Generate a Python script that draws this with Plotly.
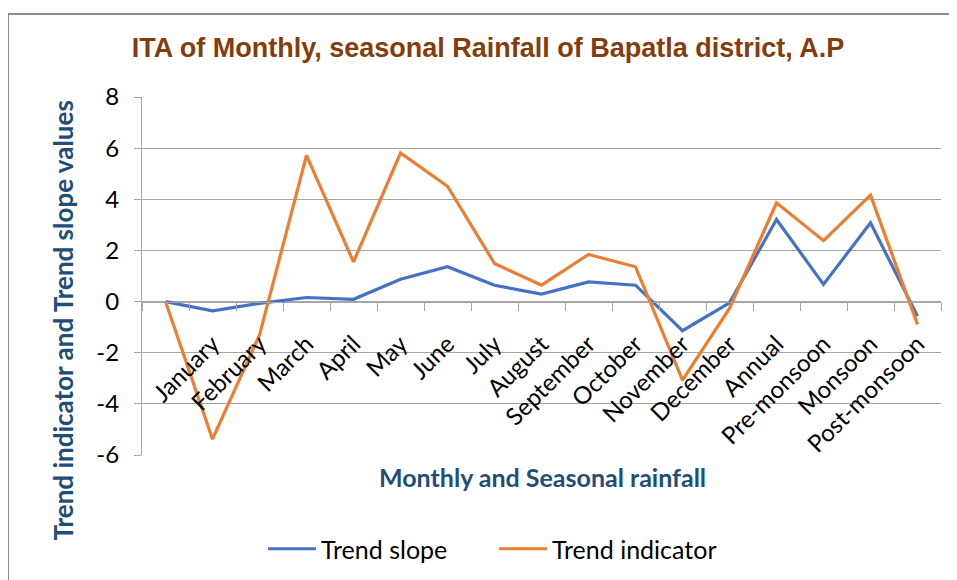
import plotly.graph_objects as go

categories = [" ", "January", "February", "March", "April", "May", "June", "July",
              "August", "September", "October", "November", "December", "Annual",
              "Pre-monsoon", "Monsoon", "Post-monsoon"]
trend_slope = [0, -0.36, -0.07, 0.16, 0.09, 0.87, 1.36, 0.64, 0.29, 0.77, 0.64,
               -1.14, -0.05, 3.21, 0.67, 3.08, -0.57]
trend_indicator = [0, -5.38, -1.31, 5.72, 1.55, 5.81, 4.51, 1.49, 0.64, 1.84, 1.36,
                   -3.07, -0.27, 3.86, 2.38, 4.16, -0.89]
y_ticks = [-6, -4, -2, 0, 2, 4, 6, 8]
y_tick_labels = [str(v) for v in y_ticks]

OFF = 8  # page body margin
W, H = 957, 580
PL, PT, PR, PB = 142, 97, 941, 455  # plot area in screenshot pixels
pw, ph = PR - PL, PB - PT
L, T = PL - OFF, PT - OFF
R, B = W - L - pw, H - T - ph

def px(x):
    return (x - PL) / pw

def py(y):
    return (PB - y) / ph

FONT = "Lato"
GRID = "#A6A6A6"

fig = go.Figure()
fig.add_trace(go.Scatter(x=categories, y=trend_slope, mode="lines", name="Trend slope",
                         line=dict(color="#4472C4", width=3.2)))
fig.add_trace(go.Scatter(x=categories, y=trend_indicator, mode="lines", name="Trend indicator",
                         line=dict(color="#ED7D31", width=3.2)))

fig.update_layout(
    width=W, height=H,
    margin=dict(l=L, r=R, t=T, b=B, autoexpand=False),
    paper_bgcolor="white", plot_bgcolor="white",
    font=dict(family=FONT, color="black"),
    title=dict(text="<b>ITA of Monthly, seasonal Rainfall of Bapatla district, A.P</b>",
               font=dict(family="Liberation Sans", size=27, color="#843C0C"),
               x=(488 - OFF) / W, xanchor="center", y=1 - (48 - OFF) / H, yanchor="middle"),
    xaxis=dict(type="category", anchor="free", position=6 / 14,
               range=[-0.5, len(categories) - 0.5],
               showline=True, linecolor=GRID, linewidth=1,
               ticks="outside", tickson="boundaries", ticklen=8, tickcolor=GRID,
               ticklabelstandoff=18,
               tickangle=-45, tickfont=dict(family=FONT, size=24, color="black"),
               showgrid=False, zeroline=False, automargin=False),
    yaxis=dict(range=[-6, 8], tickvals=y_ticks, ticktext=y_tick_labels,
               showgrid=True, gridcolor=GRID, gridwidth=1,
               showline=True, linecolor=GRID, linewidth=1, zeroline=False,
               ticks="outside", ticklen=7, tickcolor=GRID, ticklabelstandoff=10,
               tickfont=dict(family=FONT, size=24, color="black"), automargin=False),
    legend=dict(orientation="h", x=px(263), xanchor="left", y=py(549), yanchor="middle",
                font=dict(family=FONT, size=25, color="black"), itemwidth=48,
                entrywidth=168, entrywidthmode="pixels",
                bgcolor="rgba(0,0,0,0)"),
    showlegend=True,
)

fig.add_annotation(text="<b>Trend indicator and Trend slope values</b>", textangle=-90,
                   xref="paper", yref="paper", x=px(62.5), y=py(321),
                   xanchor="center", yanchor="middle", showarrow=False,
                   font=dict(family=FONT, size=26, color="#1F4E79"))
fig.add_annotation(text="<b>Monthly and Seasonal rainfall</b>",
                   xref="paper", yref="paper", x=px(542), y=py(477),
                   xanchor="center", yanchor="middle", showarrow=False,
                   font=dict(family=FONT, size=25, color="#1F4E79"))

fig.add_shape(type="rect", xref="paper", yref="paper",
              x0=px(8), x1=px(975), y0=py(14), y1=py(600),
              line=dict(color="#8C8C8C", width=2), fillcolor="rgba(0,0,0,0)", layer="below")

fig.write_html("out.html")
